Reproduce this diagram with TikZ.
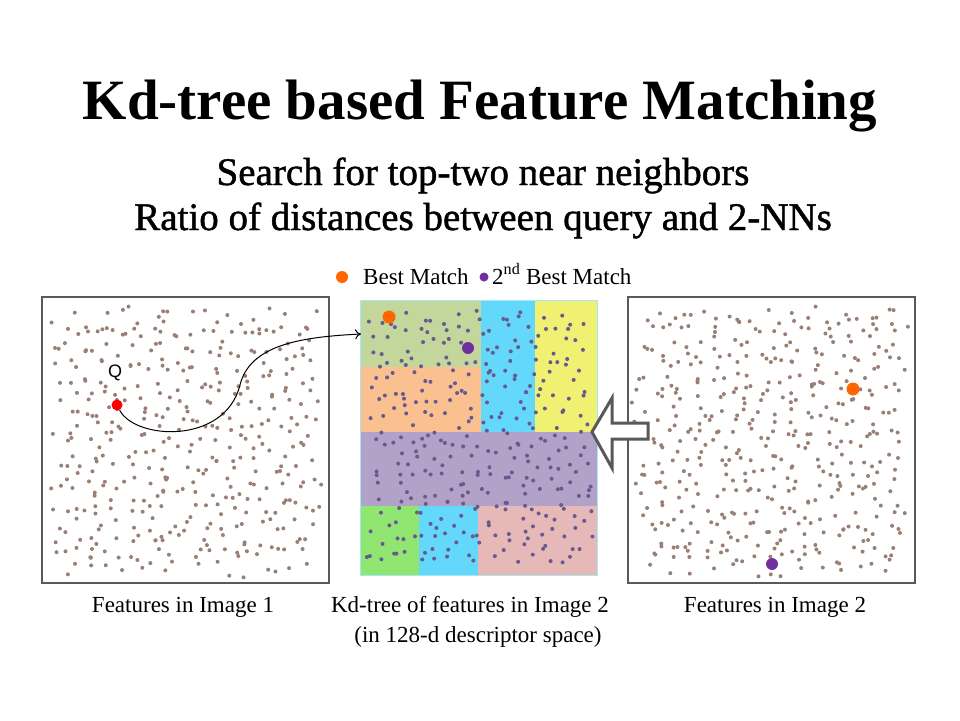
\documentclass[tikz,border=0pt]{standalone}
\usepackage{fontspec}
\setmainfont{Liberation Serif}
\newfontfamily\qfont{Liberation Sans}
\newfontfamily\subfont[FakeBold=1.2]{Liberation Serif}
\usetikzlibrary{arrows.meta}
\definecolor{sage}{HTML}{C3D69B}
\definecolor{peach}{HTML}{FAC090}
\definecolor{sky}{HTML}{63D8FA}
\definecolor{lemon}{HTML}{F0F072}
\definecolor{lavender}{HTML}{B3A2C7}
\definecolor{lime}{HTML}{90E670}
\definecolor{rosy}{HTML}{E6B8B7}
\definecolor{treedot}{HTML}{675A90}
\definecolor{featdot}{HTML}{9A8074}
\definecolor{bestorange}{HTML}{FF6600}
\definecolor{secpurple}{HTML}{7030A0}
\def\scatter[#1](#2,#3)(#4,#5)#6#7{\foreach \i in {1,...,#6}{
	\pgfmathsetmacro\u{0.94*mod(#7+\i*0.7548777,1)+0.06*rnd}
	\pgfmathsetmacro\v{0.94*mod(#7+\i*0.5698403,1)+0.06*rnd}
	\fill[#1] ({#2+(#4-#2)*\u},{#3+(#5-#3)*\v}) circle[radius=2pt];}}

\begin{document}
\begin{tikzpicture}[x=1pt,y=-1pt,
	panel/.style={draw=black!65, line width=1.2pt},
	bigdot/.style={circle, inner sep=0pt, minimum size=13pt},
	smalldot/.style={circle, inner sep=0pt, minimum size=9pt},
	caption/.style={font=\fontsize{23}{26}\selectfont, anchor=base},
	blockarrow/.style={draw=black!65, fill=white, line width=3pt, line join=miter}]
	%%%%% START %%%%%
	\useasboundingbox[fill=white] (0,0) rectangle (960,720);
	\pgfmathsetseed{11}
	
	% headings
	\node[font=\bfseries\fontsize{57}{60}\selectfont, anchor=base] (title) at (480,119) {Kd-tree based Feature Matching};
	\node[font=\subfont\fontsize{39}{42}\selectfont, anchor=base] (sub1) at (483,185) {Search for top-two near neighbors};
	\node[font=\subfont\fontsize{39}{42}\selectfont, anchor=base] (sub2) at (483,230) {Ratio of distances between query and 2-NNs};
	
	% image 1
	\draw[panel] (42,297) rectangle (329,583);
	\scatter[featdot](45,300)(326,580){420}{0.13}
	
	% kd-tree cells
	\fill[sage] (360,300) rectangle (481,367);
	\fill[peach] (360,367) rectangle (481,432);
	\fill[sky] (481,300) rectangle (535,432);
	\fill[lemon] (535,300) rectangle (597,432);
	\fill[lavender] (360,432) rectangle (597,506);
	\fill[lime] (360,506) rectangle (419,575);
	\fill[sky] (419,506) rectangle (478,575);
	\fill[rosy] (478,506) rectangle (597,575);
	\draw[sky!60, line width=0.6pt] (360,300) rectangle (597,575);
	\scatter[treedot](363,303)(595,573){330}{0.41}
	
	% image 2
	\draw[panel] (628,297) rectangle (915,583);
	\scatter[featdot](631,300)(912,580){450}{0.77}
	
	% matches
	\node[bigdot, fill=bestorange] (best) at (389,317) {};
	\node[bigdot, fill=secpurple, minimum size=12pt] (second) at (468,348) {};
	\node[bigdot, fill=bestorange] (best2) at (853,389) {};
	\node[bigdot, fill=secpurple, minimum size=12pt] (second2) at (772,564) {};
	
	% query
	\node[bigdot, fill=red, minimum size=11pt] (q) at (117,405) {};
	\node[font=\qfont\fontsize{18}{20}\selectfont, fill=white, inner sep=1pt] (qlabel) at (115,373) {Q};
	\coordinate (entry) at (361,334);
	\draw[line width=1pt, -{To[length=6pt,width=10pt]}] (q) .. controls (135,440) and (225,445) .. (240,385) .. controls (250,345) and (300,337) .. (entry);
	
	% hollow arrow
	\draw[blockarrow] (592,432) -- (612,398) -- (612,423) -- (648,423) -- (648,439) -- (612,439) -- (612,468) -- cycle;
	
	% legend
	\node[bigdot, fill=bestorange, minimum size=12pt] (legbest) at (342,277) {};
	\node[font=\fontsize{23}{26}\selectfont, anchor=base west, inner sep=0pt] (legbesttxt) at (363,284) {Best Match};
	\node[smalldot, fill=secpurple] (legsec) at (484,277) {};
	\node[font=\fontsize{23}{26}\selectfont, anchor=base west, inner sep=0pt] (legsectxt) at (492,284) {2\textsuperscript{nd} Best Match};
	
	% captions
	\node[caption] (cap1) at (183,612) {Features in Image 1};
	\node[caption] (cap2) at (470,612) {Kd-tree of features in Image 2};
	\node[caption] (cap2b) at (478,642) {(in 128-d descriptor space)};
	\node[caption] (cap3) at (775,612) {Features in Image 2};
	%%%%% END %%%%%
\end{tikzpicture}
\end{document}
